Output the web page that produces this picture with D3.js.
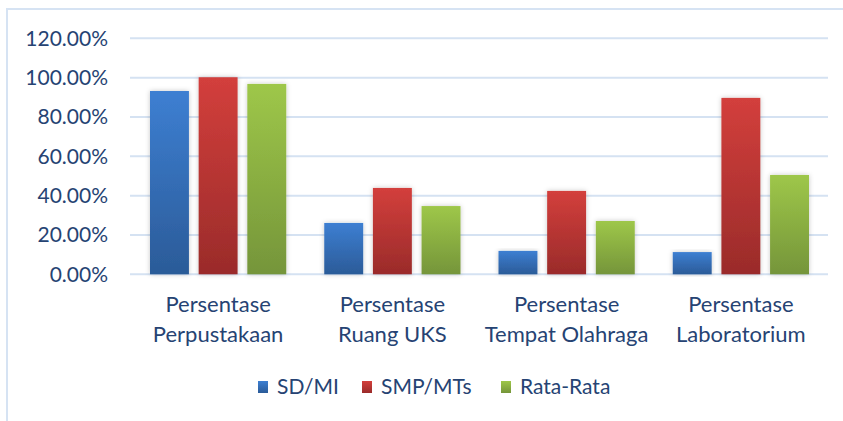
<!DOCTYPE html>
<html>
<head>
<meta charset="utf-8">
<script src="https://cdn.jsdelivr.net/npm/d3@7"></script>
<style>
  body { margin: 0; background: #fff; }
  svg { display: block; font-family: Lato, "Open Sans", sans-serif; }
</style>
</head>
<body>
<div id="chart"></div>
<script>
// data
const categories = [
  ["Persentase", "Perpustakaan"],
  ["Persentase", "Ruang UKS"],
  ["Persentase", "Tempat Olahraga"],
  ["Persentase", "Laboratorium"]
];
const seriesNames = ["SD/MI", "SMP/MTs", "Rata-Rata"];
const sdmi = [0.932, 0.261, 0.119, 0.113];
const smpmts = [1.002, 0.439, 0.424, 0.897];
const rataRata = [0.968, 0.347, 0.271, 0.505];
const yTicks = [0, 0.2, 0.4, 0.6, 0.8, 1.0, 1.2];

const values = [sdmi, smpmts, rataRata];
const colors = [
  { top: "#3d7fd2", bottom: "#2b5b98" },
  { top: "#d33f3c", bottom: "#9a2b2a" },
  { top: "#9ec749", bottom: "#75953a" }
];

const W = 843, H = 421;
const margin = { left: 131, right: 15, top: 38.3, bottom: 146.7 };

const svg = d3.select("#chart").append("svg")
  .attr("width", W).attr("height", H);

const defs = svg.append("defs");
colors.forEach((c, i) => {
  const g = defs.append("linearGradient")
    .attr("id", "grad" + i)
    .attr("x1", 0).attr("y1", 0).attr("x2", 0).attr("y2", 1);
  g.append("stop").attr("offset", "0%").attr("stop-color", c.top);
  g.append("stop").attr("offset", "100%").attr("stop-color", c.bottom);
});
defs.append("filter").attr("id", "shadow")
  .attr("x", "-30%").attr("y", "-10%").attr("width", "160%").attr("height", "120%")
  .append("feDropShadow")
  .attr("dx", 0).attr("dy", 0).attr("stdDeviation", 2.5)
  .attr("flood-color", "#000").attr("flood-opacity", 0.22);

// chart frame (only left and top edges are visible)
svg.append("path")
  .attr("d", `M7,${H} V9 H${W}`)
  .attr("fill", "none")
  .attr("stroke", "#d6e3f3")
  .attr("stroke-width", 2);

const x0 = d3.scaleBand()
  .domain(d3.range(categories.length))
  .range([margin.left, W - margin.right])
  .paddingInner(0).paddingOuter(0);

const x1 = d3.scaleBand()
  .domain(d3.range(seriesNames.length))
  .range([19, x0.bandwidth() - 19])
  .paddingInner(0.2).paddingOuter(0);

const y = d3.scaleLinear()
  .domain([0, 1.2])
  .range([H - margin.bottom, margin.top]);

// gridlines
svg.append("g")
  .selectAll("line")
  .data(yTicks)
  .join("line")
  .attr("x1", margin.left - 1)
  .attr("x2", W - margin.right)
  .attr("y1", d => y(d))
  .attr("y2", d => y(d))
  .attr("stroke", "#d5e2f2")
  .attr("stroke-width", 2);

// y axis labels
const yAxis = d3.axisLeft(y)
  .tickValues(yTicks)
  .tickFormat(d3.format(".2%"))
  .tickSize(0)
  .tickPadding(23);
const ya = svg.append("g")
  .attr("transform", `translate(${margin.left},0)`)
  .call(yAxis);
ya.select(".domain").remove();
ya.selectAll("text")
  .attr("fill", "#264373")
  .attr("font-size", 21)
  .attr("font-family", "Lato, sans-serif");

// bars
const groups = svg.append("g")
  .selectAll("g")
  .data(categories)
  .join("g")
  .attr("transform", (d, i) => `translate(${x0(i)},0)`);

groups.selectAll("rect")
  .data((d, i) => values.map((s, j) => ({ s: j, v: s[i] })))
  .join("rect")
  .attr("x", d => x1(d.s))
  .attr("width", x1.bandwidth())
  .attr("y", d => y(d.v))
  .attr("height", d => y(0) - y(d.v))
  .attr("fill", d => `url(#grad${d.s})`)
  .attr("filter", "url(#shadow)");

// category labels
const xl = svg.append("g");
categories.forEach((lines, i) => {
  const t = xl.append("text")
    .attr("x", x0(i) + x0.bandwidth() / 2)
    .attr("y", 312)
    .attr("text-anchor", "middle")
    .attr("fill", "#264373")
    .attr("font-size", 22);
  lines.forEach((ln, k) => {
    t.append("tspan")
      .attr("x", x0(i) + x0.bandwidth() / 2)
      .attr("dy", k === 0 ? 0 : 30)
      .text(ln);
  });
});

// legend
const legendX = [258, 362, 501];
const leg = svg.append("g")
  .selectAll("g")
  .data(seriesNames)
  .join("g")
  .attr("transform", (d, i) => `translate(${legendX[i]},381)`);
leg.append("rect")
  .attr("width", 10).attr("height", 12)
  .attr("fill", (d, i) => `url(#grad${i})`);
leg.append("text")
  .attr("x", 19)
  .attr("y", 13)
  .attr("fill", "#264373")
  .attr("font-size", 21)
  .text(d => d);
</script>
</body>
</html>
